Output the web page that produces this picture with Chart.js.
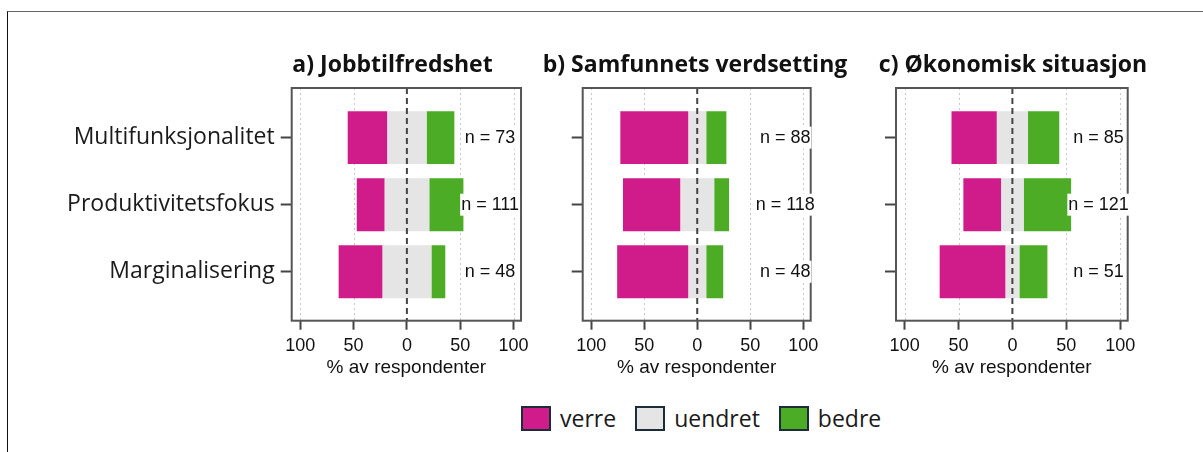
<!DOCTYPE html>
<html>
<head>
<meta charset="utf-8">
<script src="https://cdn.jsdelivr.net/npm/chart.js@4.4.1/dist/chart.umd.min.js"></script>
<style>
  html, body { margin: 0; padding: 0; background: #fff; }
  body { width: 1203px; height: 452px; position: relative; overflow: hidden; }
  .frame { position: absolute; left: 7px; top: 11px; width: 1210px; height: 460px;
           border-top: 1px solid #666; border-left: 1px solid #111; }
  canvas { position: absolute; top: 0; }
  #legend { position: absolute; left: 521px; top: 406px; display: flex; align-items: center;
            font-family: 'Open Sans', sans-serif; font-size: 23px; color: #1a1a1a; line-height: 25px; }
  .item { display: flex; align-items: center; margin-right: 19px; }
  .box { width: 30px; height: 25px; box-sizing: border-box; border: 2px solid #1d2c3a; margin-right: 9px; }
</style>
</head>
<body>
<div class="frame"></div>
<canvas id="chartA" width="535" height="400" style="left:0px"></canvas>
<canvas id="chartB" width="330" height="400" style="left:536px"></canvas>
<canvas id="chartC" width="337" height="400" style="left:866px"></canvas>
<div id="legend"></div>

<script>
const categories = ['Multifunksjonalitet', 'Produktivitetsfokus', 'Marginalisering'];
const panelTitles = ['a) Jobbtilfredshet', 'b) Samfunnets verdsetting', 'c) Økonomisk situasjon'];
const legendLabels = ['verre', 'uendret', 'bedre'];
const xTicks = [-100, -50, 0, 50, 100];

// % av respondenter
const verreA = [37, 26, 41];
const uendretA = [37, 42, 46];
const bedreA = [26, 32, 13];
const nA = [73, 111, 48];

const verreB = [64, 54, 67];
const uendretB = [17, 32, 17];
const bedreB = [19, 14, 16];
const nB = [88, 118, 48];

const verreC = [42, 35, 61];
const uendretC = [29, 21, 13];
const bedreC = [29, 44, 26];
const nC = [85, 121, 51];

const colors = ['#d01c8b', '#e5e5e5', '#4dac26'];
const tickFont = '"Liberation Sans", Arial, sans-serif';

const panels = [
  { id: 'chartA', left: 0, width: 535, areaLeft: 291.7, areaRight: 521.7, titleX: 392.5, nAt: 78,
    labels: true, title: panelTitles[0], verre: verreA, uendret: uendretA, bedre: bedreA, n: nA },
  { id: 'chartB', left: 536, width: 330, areaLeft: 582.7, areaRight: 810.7, titleX: 695, nAt: 83,
    labels: false, title: panelTitles[1], verre: verreB, uendret: uendretB, bedre: bedreB, n: nB },
  { id: 'chartC', left: 866, width: 337, areaLeft: 896, areaRight: 1127.7, titleX: 1013, nAt: 80,
    labels: false, title: panelTitles[2], verre: verreC, uendret: uendretC, bedre: bedreC, n: nC }
];

// neutral centred on 0, negative to the left, positive to the right
function spans(verre, uendret, bedre) {
  const v = [], u = [], b = [];
  categories.forEach((c, i) => {
    const half = uendret[i] / 2;
    v.push({ x: [-half - verre[i], -half], y: i });
    u.push({ x: [-half, half], y: i });
    b.push({ x: [half, half + bedre[i]], y: i });
  });
  return [v, u, b];
}

function makeDecor(p) {
  return {
    id: 'decor',
    beforeDatasetsDraw(chart) {
      const { ctx, chartArea: a, scales: { x } } = chart;
      ctx.save();
      ctx.strokeStyle = '#c8c8c8';
      ctx.lineWidth = 1;
      ctx.setLineDash([2, 3]);
      xTicks.filter(v => v !== 0).forEach(v => {
        const px = Math.round(x.getPixelForValue(v)) + 0.5;
        ctx.beginPath();
        ctx.moveTo(px, a.top);
        ctx.lineTo(px, a.bottom);
        ctx.stroke();
      });
      ctx.restore();
    },
    afterDatasetsDraw(chart) {
      const { ctx, chartArea: a, scales: { x, y } } = chart;
      ctx.save();
      const x0 = x.getPixelForValue(0);
      ctx.strokeStyle = '#444';
      ctx.lineWidth = 2;
      ctx.setLineDash([6, 4]);
      ctx.beginPath();
      ctx.moveTo(x0, a.top);
      ctx.lineTo(x0, a.bottom);
      ctx.stroke();
      ctx.setLineDash([]);

      ctx.strokeStyle = '#555';
      ctx.lineWidth = 2;
      ctx.strokeRect(a.left, a.top, a.right - a.left, a.bottom - a.top);

      ctx.font = '18px ' + tickFont;
      ctx.textAlign = 'center';
      ctx.textBaseline = 'middle';
      const xc = x.getPixelForValue(p.nAt);
      p.n.forEach((n, i) => {
        const t = 'n = ' + n;
        const w = ctx.measureText(t).width;
        const yc = y.getPixelForValue(i);
        ctx.fillStyle = '#fff';
        ctx.fillRect(xc - w / 2 - 1, yc - 11, w + 2, 22);
        ctx.fillStyle = '#111';
        ctx.fillText(t, xc, yc);
      });

      ctx.font = 'bold 23px "Open Sans", sans-serif';
      ctx.textAlign = 'center';
      ctx.textBaseline = 'alphabetic';
      ctx.fillStyle = '#111';
      ctx.fillText(p.title, p.titleX - p.left, 71.5);
      ctx.restore();
    }
  };
}

panels.forEach(p => {
  const sets = spans(p.verre, p.uendret, p.bedre);
  new Chart(document.getElementById(p.id), {
    type: 'bar',
    data: {
      datasets: sets.map((d, k) => ({
        label: legendLabels[k],
        data: d,
        backgroundColor: colors[k],
        borderWidth: 0,
        grouped: false,
        barPercentage: 1,
        categoryPercentage: 0.79
      }))
    },
    options: {
      indexAxis: 'y',
      responsive: false,
      animation: false,
      layout: { padding: { left: 0, top: 88, right: p.left + p.width - p.areaRight, bottom: 19.3 } },
      plugins: { legend: { display: false }, tooltip: { enabled: false }, title: { display: false } },
      scales: {
        x: {
          type: 'linear',
          min: -108,
          max: 107,
          offset: false,
          afterBuildTicks: s => { s.ticks = xTicks.map(v => ({ value: v })); },
          afterFit: s => { s.height = 60; },
          grid: { drawOnChartArea: false, drawTicks: true, offset: false, tickLength: 9, tickColor: '#444', tickWidth: 2 },
          border: { display: false },
          ticks: { padding: 6, color: '#111', font: { family: tickFont, size: 18 }, callback: v => Math.abs(v) },
          title: { display: true, text: '% av respondenter', color: '#111',
                   font: { family: tickFont, size: 19 }, padding: { top: 0, bottom: 1.3 } }
        },
        y: {
          type: 'linear',
          reverse: true,
          min: -0.74,
          max: 2.73,
          offset: false,
          afterBuildTicks: s => { s.ticks = categories.map((c, i) => ({ value: i })); },
          afterFit: s => { s.width = p.areaLeft - p.left; },
          grid: { drawOnChartArea: false, drawTicks: true, offset: false, tickLength: 11, tickColor: '#444', tickWidth: 2 },
          border: { display: false },
          ticks: { padding: 6, color: '#1a1a1a', font: { family: '"Open Sans", sans-serif', size: 23 },
                   callback: v => p.labels ? categories[v] : '' }
        }
      }
    },
    plugins: [makeDecor(p)]
  });
});

const legend = document.getElementById('legend');
legendLabels.forEach((l, k) => {
  const item = document.createElement('div');
  item.className = 'item';
  const box = document.createElement('span');
  box.className = 'box';
  box.style.background = colors[k];
  const txt = document.createElement('span');
  txt.textContent = l;
  item.appendChild(box);
  item.appendChild(txt);
  legend.appendChild(item);
});
</script>
</body>
</html>
